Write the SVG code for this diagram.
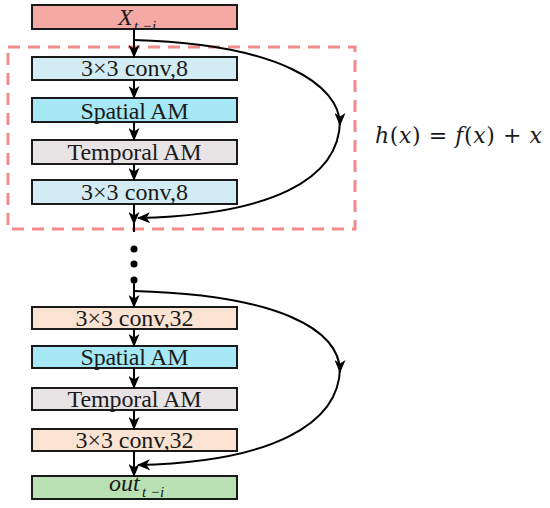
<svg xmlns="http://www.w3.org/2000/svg" width="550" height="508" viewBox="0 0 550 508">
<defs>
<marker id="ah" viewBox="0 0 13 11" refX="12" refY="5.5" markerWidth="13" markerHeight="11" markerUnits="userSpaceOnUse" orient="auto">
<path d="M0,0 L13,5.5 L0,11 L3.5,5.5 Z" fill="#000"/>
</marker>
<clipPath id="cx"><rect x="32" y="5" width="205" height="24"/></clipPath>
<style>
.box{stroke:#1a1a1a;stroke-width:2}
.lbl{font-family:"Liberation Serif","Times New Roman",serif;font-size:24px;fill:#1a1a1a;text-anchor:middle}
.it{font-style:italic;text-anchor:start}
.sub{font-size:15px}
.ln{fill:none;stroke:#000;stroke-width:2}
</style>
</defs>
<rect width="550" height="508" fill="#fff"/>
<rect x="8" y="47" width="347" height="182" fill="none" stroke="#f28b8b" stroke-width="3" stroke-dasharray="12,8"/>
<g id="x_in"><rect x="32" y="5" width="205" height="24" fill="#f5a9a5"/>
<g clip-path="url(#cx)"><text class="lbl it" x="118" y="25">X</text><text class="lbl it sub" x="134" y="31">t −i</text></g>
<rect class="box" x="32" y="5" width="205" height="24" fill="none"/></g>
<g id="conv8a"><rect class="box" x="32" y="57" width="205" height="23" fill="#d3ecf3"/><text class="lbl" x="134.5" y="76" textLength="107">3×3 conv,8</text></g>
<g id="sam1"><rect class="box" x="32" y="98" width="205" height="24" fill="#a6e8f6"/><text class="lbl" x="134.5" y="119" textLength="108">Spatial AM</text></g>
<g id="tam1"><rect class="box" x="32" y="140" width="205" height="24" fill="#e8e4e6"/><text class="lbl" x="134.5" y="160" textLength="134">Temporal AM</text></g>
<g id="conv8b"><rect class="box" x="32" y="180" width="205" height="24" fill="#d3ecf3"/><text class="lbl" x="134.5" y="200" textLength="107">3×3 conv,8</text></g>
<g id="dots"><circle cx="134" cy="249" r="3.5"/><circle cx="134" cy="264" r="3.5"/><circle cx="134" cy="280" r="3.5"/></g>
<g id="conv32a"><rect class="box" x="32" y="307" width="205" height="22" fill="#fbe3d3"/><text class="lbl" x="134.5" y="326" textLength="118">3×3 conv,32</text></g>
<g id="sam2"><rect class="box" x="32" y="346" width="205" height="22" fill="#a6e8f6"/><text class="lbl" x="134.5" y="365" textLength="108">Spatial AM</text></g>
<g id="tam2"><rect class="box" x="32" y="388" width="205" height="22" fill="#e8e4e6"/><text class="lbl" x="134.5" y="407" textLength="134">Temporal AM</text></g>
<g id="conv32b"><rect class="box" x="32" y="429" width="205" height="22" fill="#fbe3d3"/><text class="lbl" x="134.5" y="448" textLength="118">3×3 conv,32</text></g>
<g id="out"><rect class="box" x="32" y="476" width="205" height="23" fill="#b9e1b3"/>
<text class="lbl it" x="109" y="491">out</text><text class="lbl it sub" x="142" y="497">t −i</text></g>
<g id="formula"><text x="375" y="143" textLength="167" style="font-family:'DejaVu Serif',serif;font-size:22px;fill:#1a1a1a"><tspan font-style="italic">h</tspan>(<tspan font-style="italic">x</tspan>) = <tspan font-style="italic">f</tspan>(<tspan font-style="italic">x</tspan>) + <tspan font-style="italic">x</tspan></text></g>
<g id="connectors">
<line class="ln" x1="134" y1="29" x2="134" y2="57" marker-end="url(#ah)"/>
<line class="ln" x1="134" y1="80" x2="134" y2="98" marker-end="url(#ah)"/>
<line class="ln" x1="134" y1="122" x2="134" y2="140" marker-end="url(#ah)"/>
<line class="ln" x1="134" y1="164" x2="134" y2="180" marker-end="url(#ah)"/>
<line class="ln" x1="134" y1="204" x2="134" y2="224" marker-end="url(#ah)"/>
<line class="ln" x1="134" y1="222" x2="134" y2="232"/>
<path class="ln" d="M134,40 C280,44 340,85 340,125" marker-end="url(#ah)"/>
<path class="ln" d="M340,120 C340,180 270,215 138,218" marker-end="url(#ah)"/>
<line class="ln" x1="134" y1="280" x2="134" y2="307" marker-end="url(#ah)"/>
<line class="ln" x1="134" y1="329" x2="134" y2="346" marker-end="url(#ah)"/>
<line class="ln" x1="134" y1="368" x2="134" y2="388" marker-end="url(#ah)"/>
<line class="ln" x1="134" y1="410" x2="134" y2="429" marker-end="url(#ah)"/>
<line class="ln" x1="134" y1="451" x2="134" y2="476" marker-end="url(#ah)"/>
<path class="ln" d="M134,291 C280,295 340,330 340,372" marker-end="url(#ah)"/>
<path class="ln" d="M340,367 C340,425 270,462 138,465" marker-end="url(#ah)"/>
</g>
</svg>
